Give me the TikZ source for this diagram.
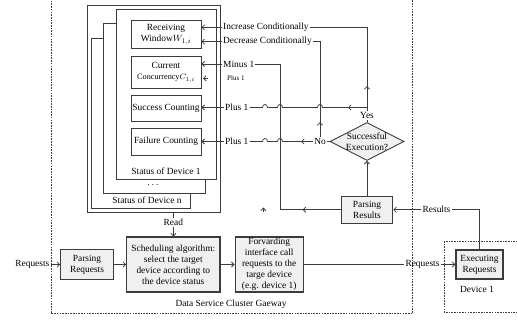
\documentclass[tikz,border=0pt]{standalone}
\usepackage{fontspec}
\setmainfont{Liberation Serif}
\usetikzlibrary{arrows.meta,shapes.geometric,decorations.markings}
\definecolor{ink}{HTML}{3C3C3C}
\definecolor{boxfill}{HTML}{F0F0F0}

\begin{document}
\begin{tikzpicture}[x=1pt,y=-1pt,
  every node/.style={font=\fontsize{9.4}{11}\selectfont, text=black},
  tipA/.style={-{Straight Barb[length=2.6pt,width=5.2pt]}},
  wire/.style={draw=ink, line width=0.75pt},
  procbox/.style={draw=ink, line width=1.1pt, fill=boxfill, align=center, inner sep=1pt},
  cellbox/.style={draw=ink, line width=0.9pt, fill=white, align=center, inner sep=1pt, minimum width=70pt},
  card/.style={draw=ink, line width=0.9pt, fill=white, inner sep=0pt},
  lbl/.style={inner sep=1pt},
  region/.style={draw=ink, line width=0.9pt, dash pattern=on 1.6pt off 1.1pt},
  midtip/.style={postaction={decorate}, decoration={markings, mark=at position #1 with {\arrow{Straight Barb[length=2.6pt,width=5.2pt]}}}},
]
\useasboundingbox (0,0) rectangle (517,321);
\clip (0,0) rectangle (517,321);

% gateway and device regions
\draw[region] (51,-10) rectangle (412.3,313.5);
\draw[region] (444,241) rectangle (530,312);

% stacked device status cards
\node[card, minimum width=133pt, minimum height=207pt] (outer) at (153.5,108.5) {};
\node[card, minimum width=99pt, minimum height=170pt] (cardn) at (140.5,123) {};
\node[card, minimum width=102pt, minimum height=170pt] (cardm) at (154,108) {};
\node[card, minimum width=100pt, minimum height=170pt] (card1) at (166,94) {};
\node[lbl] (stn) at (147,200) {Status of Device n};
\node[lbl] (dots) at (153,185.5) {.\hspace{2pt}.\hspace{2pt}.};
\node[lbl] (st1) at (166,171.5) {Status of Device 1};

% status cells of device 1
\node[cellbox, minimum height=27.6pt] (recv) at (166,34.5) {Receiving\\Window$W_{1,i}$};
\node[cellbox, minimum height=31.6pt] (curr) at (166,72.5) {Current\\{\fontsize{8.2}{9}\selectfont Concurrency$C_{1,i}$}};
\node[cellbox, minimum height=26pt] (succ) at (166,108) {Success Counting};
\node[cellbox, minimum height=27pt] (fail) at (166,141.5) {Failure Counting};

% update labels
\node[lbl, anchor=west] (incL) at (222,27.3) {Increase Conditionally};
\node[lbl, anchor=west] (decL) at (222,41.7) {Decrease Conditionally};
\node[lbl, anchor=west] (minL) at (222,64) {Minus 1};
\node[lbl, anchor=west, font=\fontsize{7}{8}\selectfont] (plusC) at (226,78.3) {Plus 1};
\node[lbl, anchor=west] (plusS) at (224,107.5) {Plus 1};
\node[lbl, anchor=west] (plusF) at (224,141.5) {Plus 1};

% result handling
\node[procbox, minimum width=51.6pt, minimum height=27.3pt] (pres) at (367,209.7) {Parsing\\Results};
\node[diamond, draw=ink, line width=0.9pt, fill=boxfill, aspect=2, inner sep=-1.5pt, align=center, minimum width=74pt, minimum height=38pt] (dia) at (367,141.5) {Successful\\Execution?};
\node[lbl] (yes) at (367,115.5) {Yes};
\node[lbl] (no) at (320,141.5) {No};
\node[lbl] (resL) at (436.5,209.7) {Results};

% request pipeline
\node[lbl, anchor=east] (reqIn) at (50.5,264.5) {Requests};
\node[procbox, minimum width=52.6pt, minimum height=30pt] (preq) at (87,264.5) {Parsing\\Requests};
\node[procbox, minimum width=93.3pt, minimum height=55pt] (sched) at (173.3,264.5) {Scheduling algorithm:\\select the target\\device according to\\the device status};
\node[procbox, minimum width=68.3pt, minimum height=55pt] (fwd) at (269.2,264.5) {Forvarding\\interface call\\requests to the\\targe device\\(e.g. device 1)};
\node[lbl] (reqOut) at (422.5,264.5) {Requests};
\node[procbox, minimum width=47pt, minimum height=29pt] (exec) at (479.5,264.5) {Executing\\Requests};
\node[lbl] (devL) at (477,289) {Device 1};
\node[lbl] (gwL) at (231,304) {Data Service Cluster Gaeway};
\node[lbl] (read) at (173.3,222.5) {Read};

% pipeline connectors
\draw[wire, tipA] (reqIn.east) -- (preq.west);
\draw[wire, tipA] (preq.east) -- (sched.west);
\draw[wire, tipA] (sched.east) -- (fwd.west);
\draw[wire] (fwd.east) -- (reqOut.west);
\draw[wire, tipA] (reqOut.east) -- (exec.west);
\draw[wire] (exec.north) |- (resL.east);
\draw[wire, tipA] (resL.west) -- (pres.east);
\draw[wire, tipA] (pres.north) -- (dia.south);
\draw[wire] (dia.north) -- (yes.south);
\draw[wire] (dia.west) -- (no.east);
\draw[wire] (sched.north |- outer.south) -- (read.north);
\draw[wire, tipA] (read.south) -- (sched.north);

% feedback to the receiving window
\draw[wire, midtip=25pt] (yes.north) |- (incL.east);
\draw[wire, tipA] (incL.west) -- (incL.west -| recv.east);
\draw[wire, midtip=15pt] (no.north) |- (decL.east);
\draw[wire, tipA] (decL.west) -- (decL.west -| recv.east);

% concurrency update
\coordinate (mTurnLow) at (280,209.7);
\coordinate (mTurnHigh) at (280,64);
\draw[wire, midtip=38pt] (pres.west) -- (mTurnLow) -- (mTurnHigh) -- (minL.east);
\draw[wire, tipA] (minL.west) -- (minL.west -| curr.east);
\coordinate (cstubA) at (207.5,78.3);
\coordinate (cstubB) at (203,78.3);
\draw[wire, tipA] (cstubA) -- (cstubB);
\coordinate (ustubA) at (263.3,211.5);
\coordinate (ustubB) at (263.3,207.5);
\draw[wire, tipA] (ustubA) -- (ustubB);

% success counting, hopping over crossing lines
\coordinate (jS) at (yes.north |- plusS.east);
\draw[wire, midtip=19pt] (jS) -- (322.5,107.5) .. controls (322.5,103.5) and (317.5,103.5) .. (317.5,107.5)
  -- (282.5,107.5) .. controls (282.5,103.5) and (277.5,103.5) .. (277.5,107.5)
  -- (267.5,107.5) .. controls (267.5,103.5) and (262.5,103.5) .. (262.5,107.5) -- (plusS.east);
\draw[wire, tipA] (plusS.west) -- (plusS.west -| succ.east);

% failure counting
\draw[wire, midtip=12pt] (no.west) -- (282.5,141.5) .. controls (282.5,137.5) and (277.5,137.5) .. (277.5,141.5)
  -- (267.5,141.5) .. controls (267.5,137.5) and (262.5,137.5) .. (262.5,141.5) -- (plusF.east);
\draw[wire, tipA] (plusF.west) -- (plusF.west -| fail.east);
\end{tikzpicture}
\end{document}
